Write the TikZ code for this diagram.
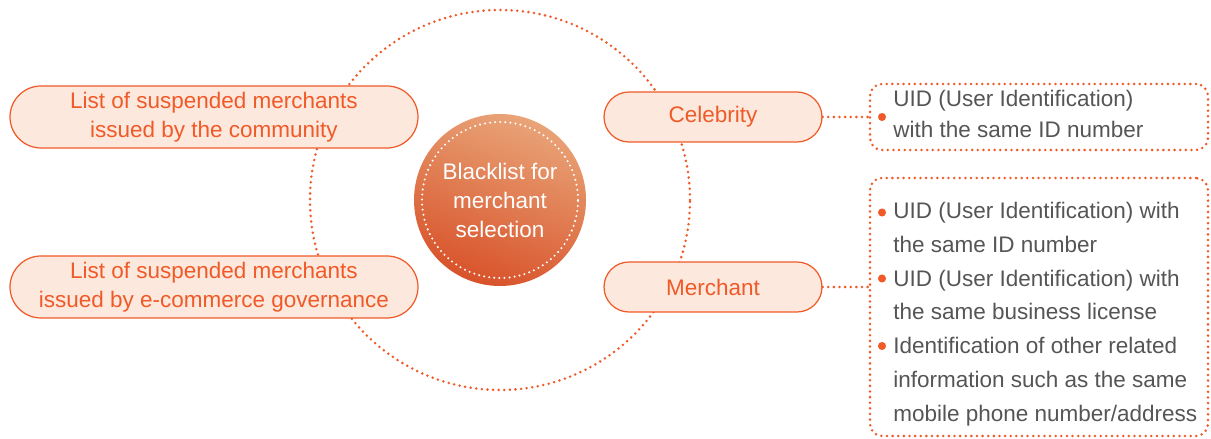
\documentclass[tikz,border=0pt]{standalone}
\usepackage{fontspec}
\setmainfont{Liberation Sans}
\usepackage{xcolor}
\usetikzlibrary{positioning,shapes.misc}

\definecolor{accent}{RGB}{240,90,40}
\definecolor{pillfill}{RGB}{252,232,220}
\definecolor{bodytext}{RGB}{85,85,85}
\definecolor{hubtop}{RGB}{233,164,120}
\definecolor{hubbot}{RGB}{216,82,42}

\tikzset{
    pill/.style={rounded rectangle, draw=accent, line width=0.7pt, fill=pillfill,
        text=accent, align=center, inner sep=0pt, font=\fontsize{12.8}{16.5}\selectfont},
    dotline/.style={draw=accent, line width=1.6pt, line cap=round, dash pattern=on 0pt off 3.2pt},
    infobox/.style={dotline, rounded corners=0.24cm, inner sep=0pt},
    infotext/.style={text=bodytext, align=left, inner sep=0pt},
    bulletdot/.style={circle, fill=accent, inner sep=0pt, minimum size=4.6pt}
}

\begin{document}
\begin{tikzpicture}
    \useasboundingbox (0,0) rectangle (24.22,8.78);
    % Outer ring
    \coordinate (centre) at (10,4.78);
    \draw [dotline] (centre) circle (3.8cm);
    % Hub
    \node [circle, minimum size=3.44cm, top color=hubtop, bottom color=hubbot, shading angle=-20,
        text=white, align=center, font=\fontsize{12.8}{16.5}\selectfont] (hub) at (centre)
        {Blacklist for\\merchant\\selection};
    \draw [white, line width=1.3pt, line cap=round, dash pattern=on 0pt off 2.9pt] (hub.center) circle (1.56cm);
    % Sources
    \node [pill, minimum width=8.16cm, minimum height=1.24cm] (community) at (4.28,6.44)
        {List of suspended merchants\\issued by the community};
    \node [pill, minimum width=8.16cm, minimum height=1.24cm] (governance) at (4.28,3.04)
        {List of suspended merchants\\issued by e-commerce governance};
    % Targets
    \node [pill, minimum width=4.36cm, minimum height=1.0cm] (celebrity) at (14.26,6.44) {Celebrity};
    \node [pill, minimum width=4.36cm, minimum height=1.0cm] (merchant) at (14.26,3.04) {Merchant};
    % Celebrity rules
    \node [infobox, minimum width=6.76cm, minimum height=1.32cm] (celebbox) at (20.78,6.44) {};
    \node [infotext, anchor=north west, font=\fontsize{12.8}{17.6}\selectfont] (celebinfo) at (17.86,6.98)
        {UID (User Identification)\\with the same ID number};
    \node [bulletdot] (celebdot) at (17.64,6.44) {};
    % Merchant rules
    \node [infobox, minimum width=6.76cm, minimum height=5.16cm] (merchbox) at (20.78,2.64) {};
    \node [infotext, anchor=north west, font=\fontsize{12.8}{19.2}\selectfont] (merchinfo) at (17.86,4.74)
        {UID (User Identification) with\\
         the same ID number\\
         UID (User Identification) with\\
         the same business license\\
         Identification of other related\\
         information such as the same\\
         mobile phone number/address};
    \node [bulletdot] (iddot) at (17.64,4.53) {};
    \node [bulletdot] (licencedot) at (17.64,3.21) {};
    \node [bulletdot] (phonedot) at (17.64,1.86) {};
    % Links
    \draw [dotline] (celebrity.east) -- (celebrity.east -| celebbox.west);
    \draw [dotline] (merchant.east) -- (merchant.east -| merchbox.west);
\end{tikzpicture}
\end{document}
